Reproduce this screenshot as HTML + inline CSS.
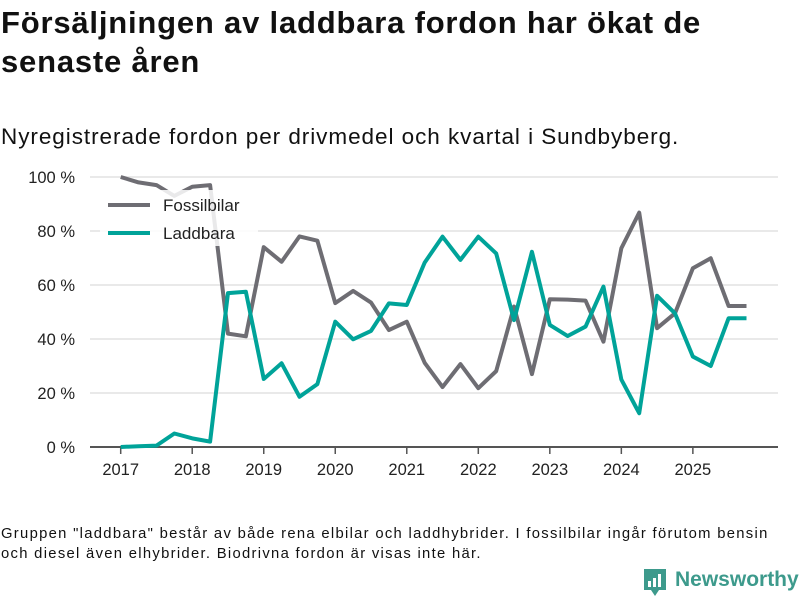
<!DOCTYPE html>
<html><head><meta charset="utf-8">
<style>
body{margin:0;width:800px;height:600px;background:#fff;font-family:"Liberation Sans",sans-serif;color:#111;overflow:hidden;position:relative}
.t{position:absolute;margin:0}
</style></head><body>
<h1 class="t" style="left:1px;top:3px;font-size:31px;line-height:39px;font-weight:bold;width:740px;letter-spacing:0.8px">Försäljningen av laddbara fordon har ökat de senaste åren</h1>
<div class="t" style="left:1px;top:124px;font-size:22.5px;letter-spacing:0.95px">Nyregistrerade fordon per drivmedel och kvartal i Sundbyberg.</div>
<svg id="chart" width="800" height="600" style="position:absolute;left:0;top:0"></svg>
<div class="t" style="left:1px;top:524px;font-size:14.8px;line-height:20px;width:778px;letter-spacing:1.3px">Gruppen "laddbara" består av både rena elbilar och laddhybrider. I fossilbilar ingår förutom bensin och diesel även elhybrider. Biodrivna fordon är visas inte här.</div>
<div class="t" style="left:643px;top:568px;display:flex;align-items:center">
<svg width="24" height="30"><path d="M1 1h22v21h-7l-4 6-4-6H1z" fill="#3d9a8c"/><rect x="5" y="13" width="3" height="6" fill="#fff"/><rect x="10" y="10" width="3" height="9" fill="#fff"/><rect x="15" y="6" width="3" height="13" fill="#fff"/></svg>
<span style="color:#3d9a8c;font-size:21px;font-weight:bold;margin-left:8px;margin-top:-6px">Newsworthy</span></div>
<script>
const years=["2017","2018","2019","2020","2021","2022","2023","2024","2025"];
const yTicks=[0,20,40,60,80,100];
const fossil=[100,98,97,93,96.4,97,42,41,74,68.6,78,76.4,53.3,57.8,53.5,43.3,46.4,31.2,22.2,30.7,21.8,28.1,52,27,54.7,54.6,54.2,39,73.6,86.8,44,49.5,66.2,69.9,52.2,52.2];
const laddbara=[0,0.3,0.5,5,3.2,2,57,57.5,25.2,31,18.6,23.3,46.4,39.9,43,53.2,52.6,68.3,77.9,69.3,77.9,71.7,47,72.3,45.2,41.1,44.6,59.4,25,12.5,56,49.5,33.5,30,47.7,47.7];
const NS="http://www.w3.org/2000/svg",svg=document.getElementById('chart');
const x=i=>120.7+i*17.88, y=v=>447-v*2.7;
function mk(t,a,p){const e=document.createElementNS(NS,t);for(const k in a)e.setAttribute(k,a[k]);(p||svg).appendChild(e);return e;}
yTicks.forEach(v=>{
 const g=mk('line',{x1:90,x2:778,y1:y(v),y2:y(v),stroke:v?'#e2e2e2':'#555','stroke-width':v?1.5:2});
 
 
 const t=mk('text',{x:75,y:y(v)+6,'text-anchor':'end','font-size':16.5,fill:'#222','font-family':'Liberation Sans, sans-serif'});
 t.textContent=v+' %';
 
 
});
years.forEach((yr,i)=>{
 const xx=x(i*4);
 const tk=mk('line',{x1:xx,x2:xx,y1:447,y2:454,stroke:'#555','stroke-width':1.5});
 
 
 const t=mk('text',{x:xx,y:475,'text-anchor':'middle','font-size':16.5,fill:'#222','font-family':'Liberation Sans, sans-serif'});
 t.textContent=yr;
 
 
});
function line(d,c,n){const p=mk('polyline',{points:d.map((v,i)=>x(i)+','+y(v)).join(' '),fill:'none',stroke:c,'stroke-width':4,'stroke-linejoin':'round'});
 
 }
line(fossil,'#6e6d73','fossilbilar-line');
line(laddbara,'#00a399','laddbara-line');
const bg=mk('rect',{x:100,y:190,width:158,height:56,fill:'rgba(255,255,255,0.85)'});


[['Fossilbilar','#6e6d73',205],['Laddbara','#00a399',233]].forEach(([n,c,yy])=>{
 const l=mk('line',{x1:108,x2:150,y1:yy,y2:yy,stroke:c,'stroke-width':4});
 
 
 const t=mk('text',{x:163,y:yy+6,'font-size':17,fill:'#222','font-family':'Liberation Sans, sans-serif'});
 t.textContent=n;
 
 
});
</script>
</body></html>
